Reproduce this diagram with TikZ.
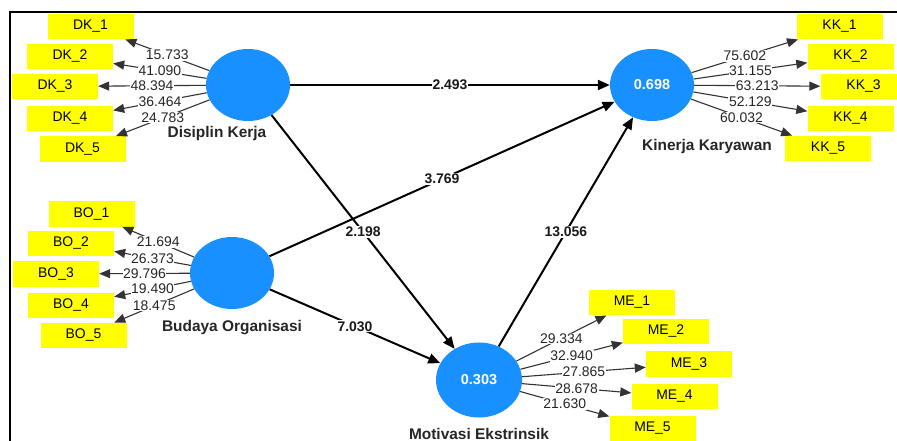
\documentclass[tikz,border=0pt]{standalone}
\usepackage{fontspec}
\setmainfont{Liberation Sans}
\usetikzlibrary{shapes.geometric,arrows.meta}
\definecolor{lvblue}{RGB}{24,144,255}
\definecolor{indyellow}{RGB}{255,255,0}
\begin{document}
\begin{tikzpicture}[x=1bp,y=-1bp,
  lv/.style={ellipse, fill=lvblue, minimum width=84bp, minimum height=72bp, inner sep=0pt, text=white, font=\bfseries\fontsize{14.5}{16}\selectfont},
  ind/.style={rectangle, fill=indyellow, minimum width=86bp, minimum height=25.5bp, inner sep=0pt, font=\fontsize{14}{16}\selectfont},
  lvname/.style={font=\bfseries\fontsize{15.5}{17}\selectfont, text=black!85},
  load/.style={draw=black!80, line width=1.1bp, -{Triangle[length=11bp,width=9bp]}},
  struct/.style={draw=black, line width=2bp, -{Triangle[length=12bp,width=10bp]}},
  loadlab/.style={fill=white, inner sep=0.6bp, font=\fontsize{14}{15}\selectfont, text=black!85},
  coef/.style={fill=white, inner sep=1bp, font=\bfseries\fontsize{14}{16}\selectfont, text=black!90},
]
\clip (0,0) rectangle (897,441);
\fill[white] (0,0) rectangle (897,441);
% frame
\draw[line width=2bp] (897,12) -- (10,12) -- (10,441);

% latent variables
\node[lv] (DK) at (248,85) {};
\node[lv] (BO) at (232,273) {};
\node[lv] (KK) at (652,85) {0.698};
\node[lv, minimum width=86bp, minimum height=75bp] (ME) at (479,380) {0.303};

\node[lvname] (DKn) at (217,134) {Disiplin Kerja};
\node[lvname] (BOn) at (232,328) {Budaya Organisasi};
\node[lvname] (KKn) at (707,147) {Kinerja Karyawan};
\node[lvname, anchor=base, inner sep=0pt] (MEn) at (479,439.5) {Motivasi Ekstrinsik};

% indicators
\node[ind] (DK1) at (90.5,26.5) {DK\_1};
\node[ind] (DK2) at (70,56.5) {DK\_2};
\node[ind] (DK3) at (55,86.5) {DK\_3};
\node[ind] (DK4) at (70,118.5) {DK\_4};
\node[ind] (DK5) at (82.5,149) {DK\_5};

\node[ind] (BO1) at (91.5,214) {BO\_1};
\node[ind] (BO2) at (71,243.5) {BO\_2};
\node[ind] (BO3) at (56,274) {BO\_3};
\node[ind] (BO4) at (71,305.5) {BO\_4};
\node[ind] (BO5) at (83.5,335.5) {BO\_5};

\node[ind] (KK1) at (839.5,26.5) {KK\_1};
\node[ind] (KK2) at (850.5,56.5) {KK\_2};
\node[ind] (KK3) at (863.5,86.5) {KK\_3};
\node[ind] (KK4) at (850.5,118.5) {KK\_4};
\node[ind] (KK5) at (828,148.5) {KK\_5};

\node[ind] (ME1) at (632,302.5) {ME\_1};
\node[ind] (ME2) at (666,331.5) {ME\_2};
\node[ind] (ME3) at (689,364) {ME\_3};
\node[ind] (ME4) at (674.5,396.5) {ME\_4};
\node[ind] (ME5) at (652.5,428.5) {ME\_5};

% outer loadings
\draw[load] (DK) -- node[loadlab] {15.733} (DK1);
\draw[load] (DK) -- node[loadlab] {41.090} (DK2);
\draw[load] (DK) -- node[loadlab] {48.394} (DK3);
\draw[load] (DK) -- node[loadlab] {36.464} (DK4);
\draw[load] (DK) -- node[loadlab] {24.783} (DK5);

\draw[load] (BO) -- node[loadlab] {21.694} (BO1);
\draw[load] (BO) -- node[loadlab] {26.373} (BO2);
\draw[load] (BO) -- node[loadlab] {29.796} (BO3);
\draw[load] (BO) -- node[loadlab] {19.490} (BO4);
\draw[load] (BO) -- node[loadlab] {18.475} (BO5);

\draw[load] (KK) -- node[loadlab] {75.602} (KK1);
\draw[load] (KK) -- node[loadlab] {31.155} (KK2);
\draw[load] (KK) -- node[loadlab] {63.213} (KK3);
\draw[load] (KK) -- node[loadlab] {52.129} (KK4);
\draw[load] (KK) -- node[loadlab] {60.032} (KK5);

\draw[load] (ME) -- node[loadlab] {29.334} (ME1);
\draw[load] (ME) -- node[loadlab] {32.940} (ME2);
\draw[load] (ME) -- node[loadlab] {27.865} (ME3);
\draw[load] (ME) -- node[loadlab] {28.678} (ME4);
\draw[load] (ME) -- node[loadlab] {21.630} (ME5);

% structural paths
\draw[struct] (DK) -- node[coef] {2.493} (KK);
\draw[struct] (BO) -- node[coef] {3.769} (KK);
\draw[struct] (DK) -- node[coef] {2.198} (ME);
\draw[struct] (ME) -- node[coef] {13.056} (KK);
\draw[struct] (BO) -- node[coef] {7.030} (ME);
\end{tikzpicture}
\end{document}
